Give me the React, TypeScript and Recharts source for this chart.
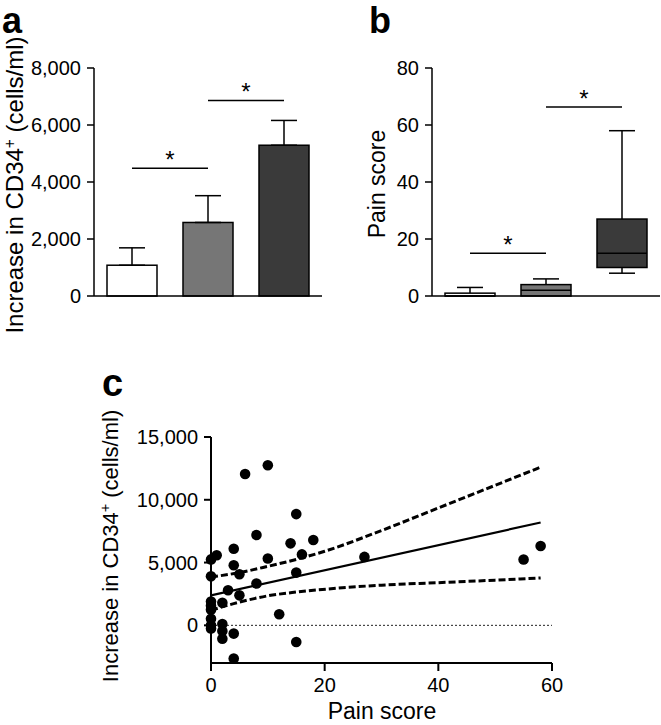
import React from 'react';
import {
  BarChart,
  Bar,
  XAxis,
  YAxis,
  ErrorBar,
  ReferenceLine,
  ComposedChart,
  Scatter,
  Line,
} from 'recharts';

// groups shared by panels a and b
const groups = ['Group 1', 'Group 2', 'Group 3'];
const groupFills = ['#ffffff', '#767676', '#3a3a3a'];

// panel a: increase in CD34+ cells (mean + SEM)
const cd34Mean = [1080, 2580, 5290];
const cd34Sem = [610, 940, 870];
const cd34Ticks = [0, 2000, 4000, 6000, 8000];
const cd34Sig = [4480, 6860];

// panel b: pain score box plots
const painMin = [0, 0, 8];
const painQ1 = [0, 0, 10];
const painMedian = [0, 2, 15];
const painQ3 = [1, 4, 27];
const painMax = [3, 6, 58];
const painTicks = [0, 20, 40, 60, 80];
const painSig = [15, 66.3];

// panel c: pain score vs increase in CD34+
const scatterPain = [0, 1, 4, 6, 10, 15, 8, 14, 18, 16, 10, 4, 5, 15, 0, 8, 3, 5, 2, 0, 0, 0, 12, 0, 0, 0, 2, 2, 2, 4, 15, 4, 27, 55, 58];
const scatterCd34 = [5250, 5580, 6100, 12050, 12750, 8860, 7200, 6530, 6800, 5650, 5320, 4780, 4070, 4200, 3900, 3330, 2800, 2390, 1800, 1900, 1550, 1250, 880, 530, 0, -250, 100, -450, -1060, -660, -1330, -2650, 5450, 5240, 6320];
const fitPain = [0, 58];
const fitCd34 = [2390, 8190];
const upperPain = [0, 5, 10, 15, 20, 30, 40, 50, 58];
const upperCd34 = [3850, 4200, 4700, 5250, 5900, 7550, 9350, 11150, 12600];
const lowerPain = [0, 5, 10, 15, 22, 30, 40, 50, 58];
const lowerCd34 = [1200, 1850, 2350, 2650, 2950, 3200, 3400, 3600, 3770];
const scatterXTicks = [0, 20, 40, 60];
const scatterYTicks = [0, 5000, 10000, 15000];

const barRows = groups.map((g, i) => ({
  group: g,
  mean: cd34Mean[i],
  err: [0, cd34Sem[i]],
  fill: groupFills[i],
}));

const boxRows = groups.map((g, i) => ({
  group: g,
  min: painMin[i],
  q1: painQ1[i],
  median: painMedian[i],
  q3: painQ3[i],
  max: painMax[i],
  fill: groupFills[i],
}));

const toXY = (xs: number[], ys: number[]) => xs.map((x, i) => ({ x, y: ys[i] }));
const scatterRows = toXY(scatterPain, scatterCd34);
const fitRows = toXY(fitPain, fitCd34);
const upperRows = toXY(upperPain, upperCd34);
const lowerRows = toXY(lowerPain, lowerCd34);

const fmt = (v: number) => v.toLocaleString('en-US');
const tickStyle = { fill: '#000', fontSize: 20 };
const starLabel = { value: '*', position: 'top' as const, offset: 0, fontSize: 24, fill: '#000' };

const BarFill = (props: any) => {
  const { x, y, width, height, payload } = props;
  return <rect x={x} y={y} width={width} height={height} fill={payload.fill} stroke="#000" strokeWidth={1.5} />;
};

// draws the whole box plot inside the range bar [min, max]
const BoxShape = (props: any) => {
  const { x, y, width, height, payload } = props;
  const { min, q1, median, q3, max, fill } = payload;
  const py = (v: number) => y + (height * (max - v)) / (max - min);
  const cx = x + width / 2;
  const cap = 13;
  return (
    <g stroke="#000" strokeWidth={1.5}>
      <line x1={cx} x2={cx} y1={py(max)} y2={py(q3)} />
      <line x1={cx - cap} x2={cx + cap} y1={py(max)} y2={py(max)} />
      {min < q1 && <line x1={cx} x2={cx} y1={py(q1)} y2={py(min)} />}
      {min < q1 && <line x1={cx - cap} x2={cx + cap} y1={py(min)} y2={py(min)} />}
      <rect x={x} y={py(q3)} width={width} height={py(q1) - py(q3)} fill={fill} />
      <line x1={x} x2={x + width} y1={py(median)} y2={py(median)} />
    </g>
  );
};

const Dot = (props: any) => <circle cx={props.cx} cy={props.cy} r={5.3} fill="#000" />;

const CD34Label = ({ x, y, size }: { x: number; y: number; size: number }) => (
  <text x={x} y={y} transform={`rotate(-90 ${x} ${y})`} textAnchor="middle" fontSize={size} fill="#000">
    Increase in CD34
    <tspan dy={-size * 0.35} fontSize={size * 0.65}>+</tspan>
    <tspan dy={size * 0.35}> (cells/ml)</tspan>
  </text>
);

export default function App() {
  return (
    <div
      style={{
        position: 'absolute',
        left: 0,
        top: 0,
        width: 661,
        height: 725,
        background: '#fff',
        fontFamily: '"Liberation Sans", Arial, Helvetica, sans-serif',
      }}
    >
      <div style={{ position: 'absolute', left: 0, top: 0 }}>
        <BarChart width={330} height={320} data={barRows} margin={{ top: 68, right: 8, bottom: 23, left: 14 }}>
          <XAxis dataKey="group" tick={false} tickLine={false} height={1} axisLine={{ stroke: '#000', strokeWidth: 1.5 }} />
          <YAxis
            width={80}
            domain={[0, 8000]}
            ticks={cd34Ticks}
            tickFormatter={fmt}
            tick={tickStyle}
            tickSize={7}
            tickMargin={6}
            axisLine={{ stroke: '#000', strokeWidth: 1.5 }}
            tickLine={{ stroke: '#000', strokeWidth: 1.5 }}
          />
          <Bar dataKey="mean" barSize={50} shape={BarFill} isAnimationActive={false}>
            <ErrorBar dataKey="err" direction="y" width={13} stroke="#000" strokeWidth={1.5} />
          </Bar>
          <ReferenceLine
            segment={[{ x: groups[0], y: cd34Sig[0] }, { x: groups[1], y: cd34Sig[0] }]}
            stroke="#000"
            strokeWidth={1.5}
            label={starLabel}
          />
          <ReferenceLine
            segment={[{ x: groups[1], y: cd34Sig[1] }, { x: groups[2], y: cd34Sig[1] }]}
            stroke="#000"
            strokeWidth={1.5}
            label={starLabel}
          />
        </BarChart>
      </div>

      <div style={{ position: 'absolute', left: 330, top: 0 }}>
        <BarChart width={331} height={320} data={boxRows} margin={{ top: 68, right: 1, bottom: 23, left: 22 }}>
          <XAxis dataKey="group" tick={false} tickLine={false} height={1} axisLine={{ stroke: '#000', strokeWidth: 1.5 }} />
          <YAxis
            width={80}
            domain={[0, 80]}
            ticks={painTicks}
            tick={tickStyle}
            tickSize={7}
            tickMargin={6}
            axisLine={{ stroke: '#000', strokeWidth: 1.5 }}
            tickLine={{ stroke: '#000', strokeWidth: 1.5 }}
          />
          <Bar dataKey={(d: any) => [d.min, d.max]} barSize={50} shape={BoxShape} isAnimationActive={false} />
          <ReferenceLine
            segment={[{ x: groups[0], y: painSig[0] }, { x: groups[1], y: painSig[0] }]}
            stroke="#000"
            strokeWidth={1.5}
            label={starLabel}
          />
          <ReferenceLine
            segment={[{ x: groups[1], y: painSig[1] }, { x: groups[2], y: painSig[1] }]}
            stroke="#000"
            strokeWidth={1.5}
            label={starLabel}
          />
        </BarChart>
      </div>

      <div style={{ position: 'absolute', left: 0, top: 400 }}>
        <ComposedChart width={661} height={325} margin={{ top: 37, right: 109, bottom: 32, left: 131 }}>
          <XAxis
            type="number"
            dataKey="x"
            domain={[0, 60]}
            ticks={scatterXTicks}
            tick={tickStyle}
            tickSize={8}
            tickMargin={7}
            height={30}
            axisLine={{ stroke: '#000', strokeWidth: 2 }}
            tickLine={{ stroke: '#000', strokeWidth: 2 }}
          />
          <YAxis
            type="number"
            dataKey="y"
            width={80}
            domain={[-3000, 15000]}
            ticks={scatterYTicks}
            tickFormatter={fmt}
            tick={tickStyle}
            tickSize={7}
            tickMargin={6}
            axisLine={{ stroke: '#000', strokeWidth: 2 }}
            tickLine={{ stroke: '#000', strokeWidth: 2 }}
          />
          <ReferenceLine y={0} stroke="#222" strokeWidth={1} strokeDasharray="2 2" />
          <Line data={upperRows} dataKey="y" type="monotone" stroke="#000" strokeWidth={3} strokeDasharray="7 3" dot={false} isAnimationActive={false} />
          <Line data={lowerRows} dataKey="y" type="monotone" stroke="#000" strokeWidth={3} strokeDasharray="7 3" dot={false} isAnimationActive={false} />
          <Line data={fitRows} dataKey="y" type="linear" stroke="#000" strokeWidth={2.2} dot={false} isAnimationActive={false} />
          <Scatter data={scatterRows} dataKey="y" shape={Dot} isAnimationActive={false} />
        </ComposedChart>
      </div>

      <svg width={661} height={725} style={{ position: 'absolute', left: 0, top: 0, pointerEvents: 'none' }}>
        <text x={2} y={33} fontSize={36} fontWeight="bold">a</text>
        <text x={369} y={33} fontSize={36} fontWeight="bold">b</text>
        <text x={102} y={396} fontSize={38} fontWeight="bold">c</text>
        <CD34Label x={23} y={185} size={24} />
        <CD34Label x={118} y={546} size={22} />
        <text x={385} y={184} transform="rotate(-90 385 184)" textAnchor="middle" fontSize={23}>
          Pain score
        </text>
        <text x={382} y={719} textAnchor="middle" fontSize={23}>
          Pain score
        </text>
      </svg>
    </div>
  );
}
